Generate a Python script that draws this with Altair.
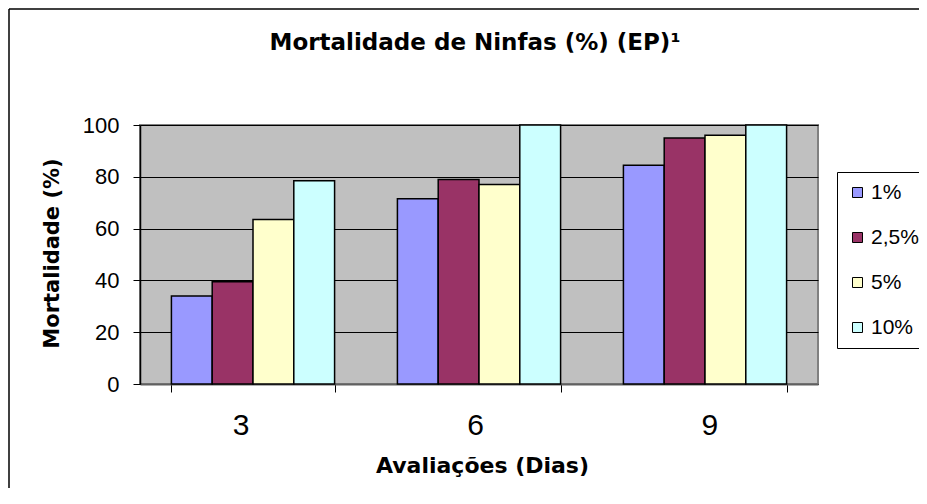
import altair as alt
import pandas as pd

# ---- data ----
categories = ["3", "6", "9"]
series = ["1%", "2,5%", "5%", "10%"]
vals_1 = [34, 71.5, 84.5]
vals_25 = [39.5, 79, 95]
vals_5 = [63.5, 77, 96]
vals_10 = [78.5, 100, 100]
colors = ["#9999FF", "#993366", "#FFFFCC", "#CCFFFF"]
y_ticks = [0, 20, 40, 60, 80, 100]
title_text = "Mortalidade de Ninfas (%) (EP)¹"
x_title = "Avaliações (Dias)"
y_title = "Mortalidade (%)"

rows = []
for s, vals in zip(series, [vals_1, vals_25, vals_5, vals_10]):
    for c, v in zip(categories, vals):
        rows.append({"dia": c, "dose": s, "mort": v})
df = pd.DataFrame(rows)

W, H = 678, 259

x_label_align = {
    "condition": [
        {"test": "datum.value == '3'", "value": "right"},
        {"test": "datum.value == '9'", "value": "left"},
    ],
    "value": "center",
}

bars = alt.Chart(df).mark_bar(stroke="black", strokeWidth=1.5).encode(
    x=alt.X("dia:N", sort=categories,
            scale=alt.Scale(paddingInner=0.278, paddingOuter=0.139),
            axis=alt.Axis(title=x_title, labelAngle=0, tickBand="extent",
                          labelFont="Liberation Sans", labelFontSize=30,
                          labelColor="black", labelPadding=18,
                          labelAlign=x_label_align, labelOffset=-4,
                          tickSize=8, tickColor="black", tickWidth=1,
                          domainColor="#606060", domainWidth=2,
                          titleFont="DejaVu Sans", titleFontSize=22,
                          titleFontWeight="bold", titleColor="black",
                          titleX=342, titleY=88, titleBaseline="alphabetic",
                          titleAlign="center")),
    xOffset=alt.XOffset("dose:N", sort=series,
                        scale=alt.Scale(paddingInner=0, paddingOuter=0)),
    y=alt.Y("mort:Q", scale=alt.Scale(domain=[0, 100], nice=False),
            axis=alt.Axis(title=y_title, values=y_ticks, grid=True,
                          gridColor="black", gridWidth=1,
                          labelFont="Liberation Sans", labelFontSize=22,
                          labelColor="black", labelPadding=14,
                          tickSize=7, tickColor="black", tickWidth=1,
                          domainColor="black", domainWidth=1.5,
                          titleFont="DejaVu Sans", titleFontSize=21,
                          titleFontWeight="bold", titleColor="black",
                          titleAngle=270, titleX=-88, titleY=128,
                          titleBaseline="middle", titleAlign="center")),
    color=alt.Color("dose:N", sort=series,
                    scale=alt.Scale(domain=series, range=colors),
                    legend=alt.Legend(title=None, orient="none",
                                      legendX=697, legendY=47,
                                      strokeColor="black", fillColor="white",
                                      padding=10, symbolType="square",
                                      symbolSize=100, symbolStrokeColor="black",
                                      symbolStrokeWidth=1, symbolOpacity=1,
                                      labelFont="Liberation Sans",
                                      labelFontSize=21, labelColor="black",
                                      labelOffset=3, rowPadding=23)),
)

title_mark = alt.Chart(alt.Data(values=[{"t": title_text}])).mark_text(
    font="DejaVu Sans", fontSize=23, fontWeight="bold", color="black",
    align="center", baseline="alphabetic"
).encode(text="t:N", x=alt.value(335), y=alt.value(-75))

frame_left = alt.Chart(alt.Data(values=[{}])).mark_rule(
    color="black", strokeWidth=1.5
).encode(x=alt.value(-131), y=alt.value(-116), y2=alt.value(420))

frame_top = alt.Chart(alt.Data(values=[{}])).mark_rule(
    color="black", strokeWidth=1.5
).encode(x=alt.value(-131), x2=alt.value(779), y=alt.value(-116))

chart = alt.layer(bars, title_mark, frame_left, frame_top).properties(
    width=W, height=H,
    autosize=alt.AutoSizeParams(type="none"),
    padding={"left": 132, "top": 117, "right": 101, "bottom": 104},
    background="white",
).configure_view(
    fill="#C0C0C0", stroke="#808080", strokeWidth=2
)

chart.save("out.html", embed_options={"renderer": "svg", "actions": False})
